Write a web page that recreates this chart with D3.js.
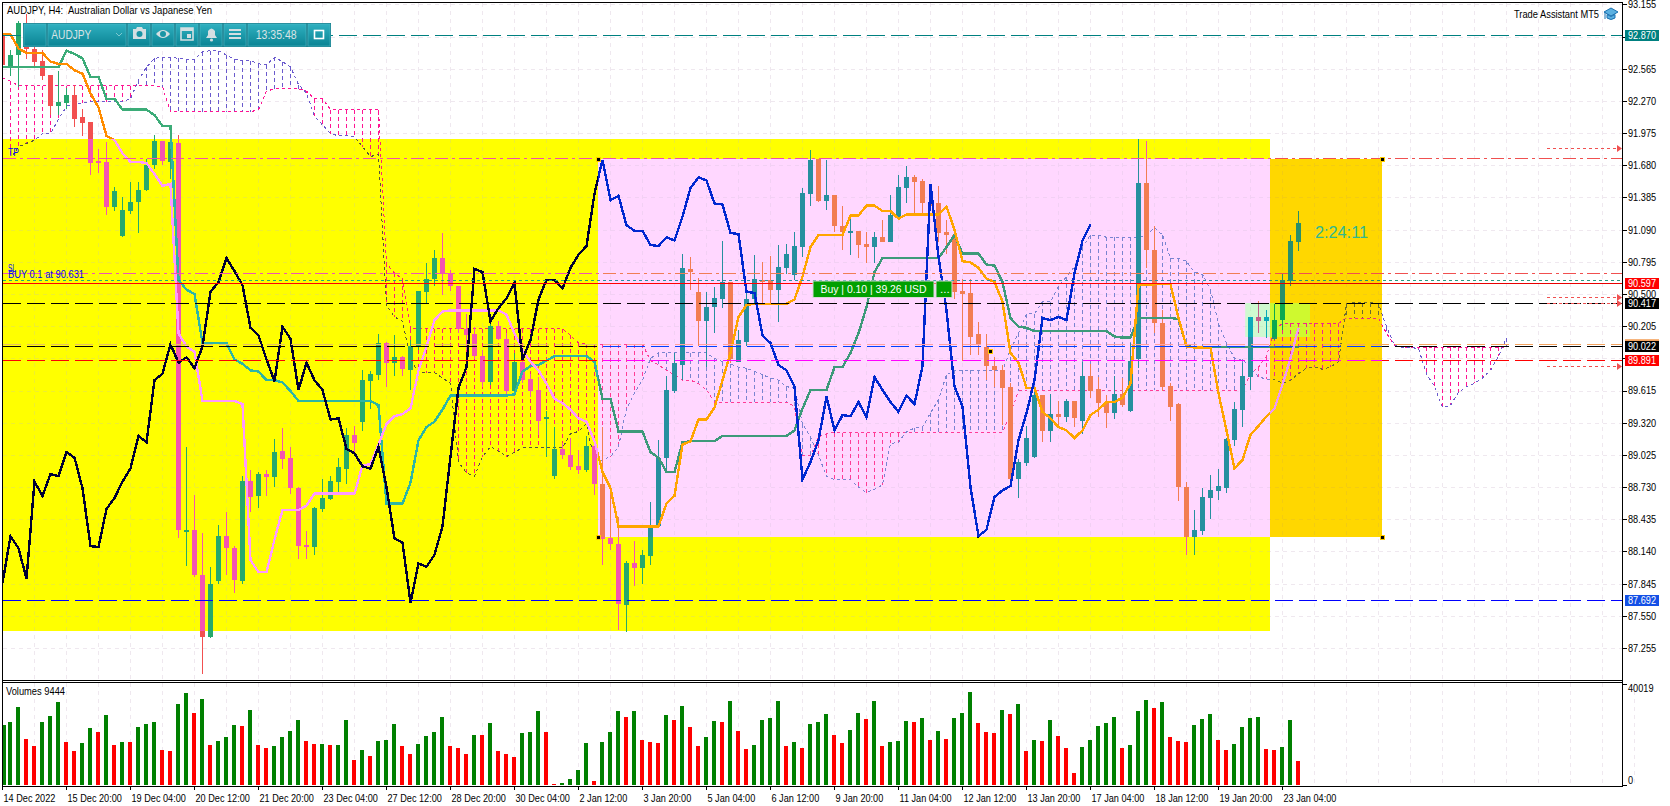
<!DOCTYPE html>
<html><head><meta charset="utf-8">
<script src="https://cdn.jsdelivr.net/npm/d3@7"></script>
<style>
html,body{margin:0;padding:0;background:#fff;overflow:hidden}
svg{display:block}
text{font-family:"Liberation Sans",Arial,sans-serif;font-size:10.5px;fill:#000}
.axis text{font-size:10.5px}
</style></head><body><svg id="c" width="1670" height="806"></svg>
<script>
const opens=[92.87,92.58,92.69,92.89,92.75,92.64,92.51,92.22,92.25,92.32,
92.12,92.08,91.72,91.71,91.30,91.03,91.26,91.34,91.45,91.68,
91.90,91.71,91.88,88.33,88.34,87.92,87.36,87.87,88.28,88.17,
87.87,88.79,88.65,88.85,88.82,89.06,89.00,88.72,88.20,88.18,
88.53,88.62,88.78,88.90,89.21,89.33,89.70,89.76,90.05,89.87,
89.92,89.80,90.02,90.52,90.64,90.83,90.69,90.57,90.18,90.13,
89.93,89.69,90.21,90.09,89.61,89.88,89.72,89.62,89.35,88.83,
89.08,89.02,88.92,88.89,89.11,88.76,88.26,88.21,87.65,88.03,
87.99,88.10,88.37,89.00,89.61,89.85,90.73,90.52,90.25,90.38,
90.45,90.61,89.88,90.06,90.45,90.63,90.63,90.54,90.74,90.67,
90.93,91.42,91.74,91.35,91.41,91.12,91.07,91.08,90.96,90.93,
91.02,90.98,91.20,91.47,91.57,91.54,91.33,91.33,91.07,91.04,
90.53,90.51,90.13,90.01,89.84,89.80,89.65,88.80,88.95,89.01,
89.57,89.24,89.40,89.37,89.52,89.34,89.75,89.63,89.51,89.41,
89.58,89.43,89.90,91.52,90.90,90.23,89.66,89.49,88.73,88.27,
88.33,88.63,88.69,88.72,89.16,89.44,89.74,90.29,90.25,90.09,
90.26,90.62,90.98];
const highs=[92.89,92.74,93.00,93.07,92.80,92.74,92.51,92.54,92.39,92.42,
92.20,92.08,91.83,91.89,91.48,91.39,91.53,91.53,91.74,91.96,
91.90,91.97,91.96,89.10,88.66,88.31,88.00,88.38,88.50,88.19,
88.83,88.89,88.87,88.89,89.17,89.27,89.10,88.73,88.33,88.55,
88.80,88.83,89.00,89.27,89.29,89.80,89.79,90.13,90.06,90.12,
89.93,90.08,90.53,90.78,90.90,91.06,90.72,90.57,90.32,90.20,
89.99,90.32,90.25,90.14,89.96,89.99,89.77,89.74,89.43,89.28,
89.13,89.18,89.07,89.20,89.12,89.28,88.73,88.46,88.05,88.24,
88.15,88.59,89.16,89.75,89.96,90.87,90.84,90.65,90.52,90.56,
90.99,90.61,90.17,90.55,90.86,90.79,90.85,90.95,90.96,91.07,
91.47,91.82,91.74,91.73,91.41,91.31,91.22,91.08,91.07,91.07,
91.18,91.41,91.59,91.67,91.59,91.55,91.47,91.49,91.18,91.04,
90.64,90.64,90.24,90.13,89.92,89.85,89.68,88.99,89.29,89.65,
89.57,89.58,89.52,89.54,89.52,89.88,89.86,89.74,89.57,89.75,
89.73,90.05,91.92,91.90,91.12,90.35,89.68,89.50,88.78,88.52,
88.72,88.84,88.90,89.18,89.51,89.87,90.29,90.44,90.35,90.41,
90.68,91.04,91.26];
const lows=[92.58,92.50,92.40,92.65,92.58,92.46,92.14,92.14,92.20,92.03,
91.95,91.59,91.61,91.22,91.26,91.02,91.23,91.06,91.44,91.65,
91.68,91.55,88.26,88.01,87.91,87.02,87.35,87.84,87.92,87.76,
87.84,88.50,88.54,88.65,88.73,88.90,88.67,88.07,88.07,88.11,
88.50,88.61,88.67,88.76,89.03,89.24,89.45,89.71,89.65,89.75,
89.75,89.62,89.99,90.41,90.57,90.49,90.53,90.14,89.99,89.90,
89.65,89.67,90.08,89.56,89.59,89.68,89.56,89.21,89.01,88.80,
88.99,88.89,88.85,88.87,88.66,88.02,88.15,87.42,87.40,87.82,
87.84,88.02,88.37,88.87,89.59,89.71,90.54,90.02,89.83,90.14,
90.37,89.87,89.88,90.02,90.41,90.40,90.41,90.24,90.68,90.63,
90.84,91.31,91.34,91.27,91.07,90.90,90.86,90.83,90.78,90.78,
90.98,90.98,91.19,91.33,91.22,91.22,91.31,90.98,90.87,90.45,
89.89,89.94,89.94,89.71,89.65,89.30,88.75,88.63,88.92,89.00,
89.14,89.14,89.28,89.33,89.28,89.22,89.55,89.37,89.27,89.35,
89.46,89.42,89.82,90.74,90.14,89.61,89.34,88.60,88.11,88.11,
88.29,88.44,88.61,88.68,89.11,89.28,89.62,90.14,90.10,90.08,
90.17,90.57,90.89];
const closes=[92.60,92.69,92.98,92.75,92.63,92.50,92.22,92.26,92.32,92.10,
92.07,91.70,91.70,91.30,91.44,91.27,91.34,91.45,91.68,91.90,
91.72,91.89,88.34,88.34,87.92,87.36,87.84,88.28,88.17,87.88,
88.79,88.64,88.85,88.82,89.05,88.99,88.72,88.19,88.18,88.54,
88.63,88.79,88.91,89.21,89.13,89.71,89.77,90.05,89.87,89.92,
89.81,90.02,90.53,90.64,90.83,90.69,90.57,90.18,90.12,89.93,
89.69,90.21,90.09,89.61,89.88,89.71,89.61,89.34,89.37,89.08,
89.02,88.91,88.89,89.11,88.76,88.25,88.21,87.66,88.03,87.99,
88.11,88.36,89.00,89.62,89.87,90.74,90.70,90.25,90.38,90.46,
90.61,89.90,90.08,90.45,90.64,90.61,90.54,90.75,90.87,90.94,
91.43,91.73,91.35,91.41,91.12,91.07,91.08,90.95,90.93,91.02,
90.98,91.22,91.48,91.57,91.53,91.33,91.31,91.06,91.04,90.52,
90.50,90.11,90.04,89.84,89.80,89.64,88.80,88.96,89.18,89.57,
89.24,89.40,89.37,89.52,89.36,89.75,89.61,89.50,89.41,89.58,
89.48,89.89,91.52,90.90,90.23,89.65,89.46,88.73,88.27,88.34,
88.64,88.70,88.74,89.17,89.45,89.75,90.29,90.25,90.29,90.26,
90.63,90.99,91.15];
const tenkan=[92.88,92.88,92.75,92.71,92.71,92.71,92.63,92.61,92.61,92.55,
92.52,92.34,92.21,91.95,91.91,91.79,91.71,91.71,91.70,91.60,
91.49,91.51,90.14,90.02,89.97,89.52,89.52,89.52,89.52,89.52,
89.49,88.06,87.95,87.95,88.25,88.52,88.52,88.52,88.56,88.67,
88.67,88.67,88.67,88.67,88.67,88.93,88.94,89.12,89.31,89.38,
89.40,89.45,89.80,90.02,90.26,90.34,90.35,90.35,90.35,90.35,
90.35,90.35,90.35,90.31,90.14,89.99,89.88,89.80,89.68,89.54,
89.50,89.44,89.36,89.33,89.15,88.87,88.72,88.37,88.37,88.37,
88.37,88.37,88.37,88.58,88.65,89.12,89.15,89.35,89.35,89.46,
89.71,89.96,90.29,90.40,90.41,90.41,90.41,90.41,90.41,90.45,
90.66,90.93,91.04,91.04,91.04,91.04,91.22,91.22,91.31,91.31,
91.26,91.26,91.19,91.23,91.23,91.23,91.23,91.23,91.30,91.09,
90.80,90.79,90.74,90.64,90.61,90.43,89.96,89.87,89.64,89.64,
89.42,89.36,89.28,89.25,89.18,89.25,89.39,89.44,89.51,89.51,
89.55,89.68,90.58,90.58,90.59,90.59,90.59,90.28,90.02,90.01,
90.01,90.01,89.59,89.25,88.90,88.98,89.21,89.29,89.38,89.45,
89.67,89.91,90.19];
const kijun=[92.58,92.58,92.58,92.58,92.58,92.58,92.58,92.58,92.73,92.70,
92.66,92.49,92.49,92.29,92.29,92.19,92.19,92.19,92.19,92.14,
92.04,92.04,90.63,90.54,90.50,90.05,90.05,90.05,90.05,89.90,
89.86,89.80,89.79,89.71,89.71,89.69,89.61,89.52,89.52,89.52,
89.52,89.52,89.52,89.52,89.52,89.52,89.52,89.48,88.58,88.58,
88.58,88.77,89.16,89.28,89.33,89.44,89.57,89.57,89.57,89.57,
89.57,89.57,89.57,89.57,89.58,89.79,89.84,89.85,89.89,89.93,
89.93,89.93,89.93,89.93,89.88,89.54,89.54,89.24,89.24,89.24,
89.24,89.05,89.00,88.87,88.87,89.14,89.15,89.15,89.15,89.15,
89.20,89.20,89.20,89.20,89.20,89.20,89.20,89.20,89.20,89.25,
89.45,89.62,89.62,89.62,89.83,89.83,89.96,90.14,90.38,90.70,
90.83,90.83,90.83,90.83,90.83,90.83,90.83,90.83,90.93,91.04,
90.87,90.87,90.87,90.77,90.76,90.61,90.28,90.20,90.19,90.16,
90.16,90.16,90.16,90.16,90.16,90.16,90.16,90.16,90.16,90.11,
90.10,90.10,90.28,90.28,90.28,90.28,90.28,90.27,90.02,90.015,
90.015,90.015,90.015,90.015,90.015,90.015,90.015,90.015,90.015,90.015,
90.015,90.015,90.015];
const chikou=[87.85,88.28,88.17,87.89,88.78,88.65,88.85,88.83,89.05,89.00,
88.72,88.19,88.18,88.53,88.63,88.78,88.90,89.20,89.14,89.71,
89.77,90.04,89.87,89.92,89.82,90.02,90.52,90.61,90.83,90.71,
90.58,90.19,90.12,89.90,89.70,90.20,90.09,89.62,89.87,89.71,
89.62,89.35,89.36,89.08,89.04,88.92,88.90,89.10,88.73,88.26,
88.22,87.67,88.03,88.00,88.11,88.37,89.01,89.64,89.83,90.73,
90.70,90.25,90.37,90.46,90.60,89.90,90.08,90.45,90.63,90.63,
90.55,90.74,90.86,90.94,91.42,91.73,91.36,91.40,91.13,91.08,
91.08,90.95,90.94,91.02,90.99,91.21,91.47,91.57,91.54,91.33,
91.32,91.06,91.05,90.52,90.51,90.12,90.05,89.85,89.80,89.65,
88.80,88.96,89.16,89.56,89.25,89.39,89.38,89.51,89.37,89.74,
89.62,89.51,89.42,89.57,89.49,89.84,91.51,90.84,90.35,89.65,
89.47,88.73,88.28,88.34,88.64,88.70,88.74,89.16,89.41,89.71,
90.28,90.26,90.29,90.26,90.69,90.99,91.14];
const senkouPink=[92.48,92.45,92.41,92.41,92.41,92.41,92.41,92.41,92.41,92.41,
92.41,92.41,92.41,92.41,92.41,92.41,92.41,92.41,92.41,92.41,
92.40,92.17,92.17,92.17,92.17,92.17,92.17,92.17,92.17,92.17,
92.17,92.17,92.19,92.36,92.38,92.38,92.38,92.38,92.36,92.29,
92.29,92.19,92.19,92.19,92.19,92.19,92.19,92.19,90.78,90.69,
90.64,90.18,90.18,90.18,90.18,90.18,90.18,90.18,90.18,90.18,
90.18,90.18,90.18,90.18,90.18,90.18,90.18,90.18,90.18,90.18,
90.18,90.12,90.05,90.04,90.04,90.04,90.04,90.04,90.04,90.04,
90.04,89.89,89.85,89.80,89.76,89.71,89.71,89.68,89.62,89.51,
89.51,89.51,89.51,89.51,89.51,89.51,89.51,89.51,89.51,89.47,
89.02,89.02,89.19,89.22,89.23,89.23,89.23,89.23,89.23,89.23,
89.23,89.23,89.23,89.23,89.23,89.23,89.23,89.23,89.23,89.23,
89.23,89.23,89.23,89.23,89.23,89.23,89.41,89.61,89.62,89.62,
89.62,89.62,89.62,89.62,89.62,89.62,89.62,89.62,89.62,89.62,
89.62,89.62,89.62,89.62,89.62,89.62,89.62,89.62,89.62,89.62,
89.62,89.62,89.62,89.62,89.62,89.62,89.77,89.83,89.93,90.17,
90.23,90.23,90.23,90.23,90.23,90.23,90.23,90.23,90.28,90.28,
90.28,90.28,90.28,90.14,90.03,90.01,90.01,90.01,90.01,90.01,
90.01,90.01,90.01,90.01,90.01,90.01,90.01,90.01,90.01];
const senkouPurple=[91.74,91.74,91.85,91.88,91.91,91.97,91.97,92.10,92.22,92.25,
92.25,92.26,92.26,92.26,92.26,92.26,92.29,92.46,92.58,92.66,
92.67,92.67,92.66,92.65,92.65,92.72,92.73,92.73,92.69,92.65,
92.64,92.64,92.61,92.60,92.67,92.63,92.58,92.42,92.34,92.13,
92.05,91.97,91.95,91.95,91.94,91.85,91.76,91.78,90.40,90.29,
90.25,89.90,89.78,89.78,89.78,89.73,89.68,88.96,88.86,88.83,
89.01,89.10,89.06,89.01,89.05,89.09,89.09,89.09,89.09,89.09,
89.09,89.22,89.24,89.31,88.96,88.98,89.01,89.10,89.45,89.59,
89.71,89.91,89.96,89.96,89.96,89.96,89.96,89.96,89.96,89.91,
89.88,89.86,89.83,89.82,89.79,89.76,89.73,89.71,89.65,89.64,
89.31,89.19,89.02,88.83,88.80,88.80,88.80,88.73,88.68,88.71,
88.75,89.13,89.14,89.24,89.27,89.28,89.41,89.53,89.76,89.80,
89.80,89.80,89.80,89.80,89.80,89.80,89.99,90.14,90.32,90.32,
90.43,90.43,90.57,90.66,90.75,90.93,91.04,91.04,91.02,91.02,
91.02,91.02,91.02,91.04,91.11,91.04,90.83,90.83,90.80,90.70,
90.68,90.54,90.23,90.05,89.91,89.90,89.82,89.74,89.72,89.72,
89.68,89.71,89.77,89.82,89.83,89.81,89.83,89.88,90.41,90.42,
90.42,90.42,90.41,90.20,90.03,90.01,90.01,90.00,89.77,89.65,
89.46,89.48,89.60,89.65,89.68,89.73,89.80,89.93,90.10];
const volumes=[23711,24890,30785,18209,15458,24890,27248,32750,17030,13493,
16637,22532,20960,27641,15851,17030,17030,22925,24104,24890,
13886,13493,31964,36287,28427,33929,15851,17423,18995,23711,
23318,29606,15851,14672,15458,18995,21353,25676,17423,16244,
16244,15851,15851,25676,9956,13886,11528,17423,17816,24104,
15458,12314,16244,19388,20960,26855,15458,14672,12314,19781,
19781,24497,13493,12314,11135,20567,20960,29213,20960,524,
917,2489,6026,16637,1703,17030,20960,29213,26855,29213,
17816,17030,16637,27641,25676,31178,22925,15458,18995,25283,
24890,33143,21353,14279,15851,25676,26462,33143,15458,17030,
14672,24104,24890,28034,19781,16637,21746,28427,26069,33143,
15458,17030,17423,25283,24890,26462,17816,21353,18209,26462,
28427,36680,24497,20960,20567,29606,28034,31964,13493,17816,
17423,25676,19388,14672,4847,15065,17816,23318,24497,26855,
14672,15851,29213,33536,30392,32750,18995,17423,17030,23711,
26069,28034,17816,13886,16244,22925,26462,26855,14279,13886,
15065,25676,9563];
const volumeDirections=("GGGRRGGGRRGGRGRGRGGGRRGGRGRGGGRGRRGGGGRRGRGGRGRGGGRRGGG"+
"GRRRGRGRRRGGGRRGGGGRGGGRGRRRGRGRRGGRGRRGGGGRGRGGGRRGGRG"+
"RGGGRGRGRGGGRRRGRGRGRGRRRGGGGGRGGGRGRRRGGGRRGGGGRRGGR").split("");
const timeLabels=["14 Dec 2022","15 Dec 20:00","19 Dec 04:00","20 Dec 12:00","21 Dec 20:00","23 Dec 04:00","27 Dec 12:00","28 Dec 20:00","30 Dec 04:00","2 Jan 12:00","3 Jan 20:00","5 Jan 04:00","6 Jan 12:00","9 Jan 20:00","11 Jan 04:00","12 Jan 12:00","13 Jan 20:00","17 Jan 04:00","18 Jan 12:00","19 Jan 20:00","23 Jan 04:00"];
const priceTicks=[93.155,92.86,92.565,92.27,91.975,91.68,91.385,91.09,90.795,90.5,90.205,89.91,89.615,89.32,89.025,88.73,88.435,88.14,87.845,87.55,87.255];
const hiddenTicks=[92.86,89.91];
const levelPrices=[92.87,91.745,90.69,90.631,90.597,90.417,90.04,90.022,89.891,87.692];
const levelDash=["18,6","13,4,3,4","13,4,3,4","3,3",null,"18,6","18,6","18,6","18,6","18,6"];
const labelPrices=[92.87,90.597,90.417,90.022,89.891,87.692];
const labelColors=["#008080","#ff0000","#000000","#000000","#ff0000","#1450e6"];
const alertPrices=[91.836,90.47,90.417,89.843];

const W=1670,H=806,PL=2.5,PR=1622.5,PT=2.5,PB=680,VT=682.5,VB=785.5;
const x=d3.scaleLinear().domain([0,162]).range([2,1298]);
const y=d3.scaleLinear().domain([93.172,86.962]).range([PT,PB]);
const yv=d3.scaleLinear().domain([0,40019]).range([785.3,683.5]);

const zones=[
 {id:"white",b0:-2,b1:240,top:93.2,bot:86.9,fill:"#ffffff",grid:"#efe8ef",bull:"#26a96c",bear:"#f25050",kijun:"#3cac78",tenkan:"#ff8c00",chikou:"#0000ff",s1:"#ff1493",s2:"#6a5acd",
  levels:["#008080","#f05050","#f05050","#2a9a80","#e80000","#000","#f4a460","#000","#ff0000","#0000ff"]},
 {id:"yellow",b0:-2,b1:158.5,top:91.92,bot:87.41,fill:"#ffff00",grid:"#eeee30",bull:"#26a96c",bear:"#f455b0",kijun:"#2eb5a5",tenkan:"#ff99ff",chikou:"#000033",s1:"#ff1e78",s2:"#55553c",
  levels:["#008080","#f050a8","#f055b0","#26a96c","#ff0000","#000","#e8c060","#000","#ff0000","#0000ff"]},
 {id:"pink",b0:74.5,b1:158.5,top:91.74,bot:88.27,fill:"#ffd7ff",grid:"#f2d0f4",bull:"#25909f",bear:"#f27d52",kijun:"#3d9a7a",tenkan:"#ffa500",chikou:"#0028d0",s1:"#ff3c96",s2:"#7a84d0",
  levels:["#008080","#f060b0","#f07d55","#2a90a0","#ff0000","#000","#ffa0a0","#0040ff","#ff00ff","#0000ff"]},
 {id:"gold",b0:158.5,b1:172.5,top:91.74,bot:88.27,fill:"#ffd700",grid:"#f4cc10",bull:"#298f6b",bear:"#f05050",kijun:"#3d8a6a",tenkan:"#ee99ee",chikou:"#0028d0",s1:"#f0288c",s2:"#6b6b33",
  levels:["#008080","#f05050","#f05050","#2a8f6b","#e00000","#000","#f4a460","#0040ff","#ff00ff","#0000ff"]},
 {id:"lgp",b0:155.4,b1:158.5,top:90.417,bot:90.105,fill:"#cff9d0",grid:"#c8f0c8",bull:"#0baab9",bear:"#c25c8b",kijun:"#3d9a7a",tenkan:"#ffa500",chikou:"#0028d0",s1:"#ff3c96",s2:"#7a84d0",
  levels:["#008080","#f060b0","#f07d55","#2a90a0","#ff0000","#000","#ffa0a0","#0040ff","#ff00ff","#0000ff"]},
 {id:"lgg",b0:158.5,b1:163.5,top:90.417,bot:90.105,fill:"#cff92f",grid:"#c8f030",bull:"#0ba850",bear:"#c25c8b",kijun:"#3d8a6a",tenkan:"#ee99ee",chikou:"#0028d0",s1:"#f0288c",s2:"#6b6b33",
  levels:["#008080","#f05050","#f05050","#2a8f6b","#e00000","#000","#f4a460","#0040ff","#ff00ff","#0000ff"]}
];
const svg=d3.select("#c");
const defs=svg.append("defs");
const bars=d3.range(opens.length), cloudBars=d3.range(senkouPink.length);
const gridX=d3.range(0,52).map(k=>k*4);
const plotRect={x:3,y:3};

function clipRect(z){
 const x0=Math.max(plotRect.x,x(z.b0)),x1=Math.min(PR,x(z.b1));
 const y0=Math.max(plotRect.y,Math.round(y(z.top))),y1=Math.min(PB,Math.round(y(z.bot)));
 return {x:x0,y:y0,width:x1-x0,height:y1-y0};
}
function lineGen(arr){return d3.line().x((d,i)=>x(i)+.5).y(d=>y(d))(arr);}
// squeeze a text to a target width, the reference font being narrower than what is installed
function fit(sel,width){sel.attr("textLength",width).attr("lengthAdjust","spacingAndGlyphs");return sel;}
function scaleText(sel,f){sel.each(function(){const t=d3.select(this);if(this.textContent)fit(t,this.getComputedTextLength()*f);});}

zones.forEach(z=>{
 const r=clipRect(z);
 defs.append("clipPath").attr("id","clip-"+z.id).append("rect").attr("x",r.x).attr("y",r.y).attr("width",r.width).attr("height",r.height);
 const g=svg.append("g").attr("clip-path",`url(#clip-${z.id})`).attr("shape-rendering","crispEdges");
 g.append("rect").attr("x",r.x).attr("y",r.y).attr("width",r.width).attr("height",r.height).attr("fill",z.fill);
 g.selectAll("line.gx").data(gridX).join("line").attr("class","gx").attr("x1",d=>x(d)).attr("x2",d=>x(d)).attr("y1",PT).attr("y2",PB).attr("stroke",z.grid).attr("stroke-dasharray","4,4");
 g.selectAll("line.gy").data(priceTicks).join("line").attr("class","gy").attr("x1",PL).attr("x2",PR).attr("y1",d=>Math.round(y(d))+.5).attr("y2",d=>Math.round(y(d))+.5).attr("stroke",z.grid).attr("stroke-dasharray","4,4");
 g.selectAll("line.h").data(cloudBars).join("line").attr("class","h")
  .attr("x1",i=>x(i)+.5).attr("x2",i=>x(i)+.5)
  .attr("y1",i=>y(Math.max(senkouPink[i],senkouPurple[i]))).attr("y2",i=>y(Math.min(senkouPink[i],senkouPurple[i])))
  .attr("stroke",i=>senkouPink[i]>=senkouPurple[i]?z.s1:z.s2).attr("stroke-dasharray","4,3");
 g.append("path").attr("d",lineGen(senkouPink)).attr("fill","none").attr("stroke",z.s1).attr("stroke-dasharray","3,3");
 g.append("path").attr("d",lineGen(senkouPurple)).attr("fill","none").attr("stroke",z.s2).attr("stroke-dasharray","3,3");
 g.selectAll("rect.w").data(bars).join("rect").attr("class","w")
  .attr("x",i=>x(i)).attr("width",1)
  .attr("y",i=>y(highs[i])).attr("height",i=>y(lows[i])-y(highs[i]))
  .attr("fill",i=>closes[i]>=opens[i]?z.bull:z.bear);
 g.selectAll("rect.b").data(bars).join("rect").attr("class","b")
  .attr("x",i=>x(i)-2).attr("width",5)
  .attr("y",i=>y(Math.max(opens[i],closes[i])))
  .attr("height",i=>Math.max(2,y(Math.min(opens[i],closes[i]))-y(Math.max(opens[i],closes[i]))))
  .attr("fill",i=>closes[i]>=opens[i]?z.bull:z.bear);
 g.append("path").attr("d",lineGen(kijun)).attr("fill","none").attr("stroke",z.kijun).attr("stroke-width",2.4);
 g.append("path").attr("d",lineGen(tenkan)).attr("fill","none").attr("stroke",z.tenkan).attr("stroke-width",2.4);
 g.append("path").attr("d",lineGen(chikou)).attr("fill","none").attr("stroke",z.chikou).attr("stroke-width",2.4);
 g.selectAll("line.l").data(levelPrices).join("line").attr("class","l")
  .attr("x1",PL).attr("x2",PR).attr("y1",d=>Math.round(y(d))+.5).attr("y2",d=>Math.round(y(d))+.5)
  .attr("stroke",(d,i)=>z.levels[i]).attr("stroke-dasharray",(d,i)=>levelDash[i]);
});

const ag=svg.append("g");
ag.selectAll("line").data(alertPrices).join("line").attr("x1",1547).attr("x2",1618).attr("y1",d=>Math.round(y(d))+.5).attr("y2",d=>Math.round(y(d))+.5).attr("stroke","#f05050").attr("stroke-dasharray","3,3").attr("shape-rendering","crispEdges");
ag.selectAll("path").data(alertPrices).join("path").attr("d",d=>{const v=Math.round(y(d))+.5;return `M1617,${v-3.5}L1622,${v}L1617,${v+3.5}Z`;}).attr("fill","#f05050");

const anchorBars=[74.5,74.5,123.5,172.5,172.5], anchorPrices=[91.73,88.265,89.975,91.73,88.265];
svg.append("g").selectAll("rect").data(anchorBars).join("rect").attr("x",d=>x(d)-2).attr("y",(d,i)=>y(anchorPrices[i])-2).attr("width",4).attr("height",4).attr("fill","#000").attr("stroke","#ffcc00").attr("stroke-width",1).attr("shape-rendering","crispEdges");

const T=(s,tx,ty,o={})=>{const t=svg.append("text").text(s).attr("x",tx).attr("y",ty).style("fill",o.fill||"#000").style("font-size",(o.size||10.5)+"px").attr("text-anchor",o.anchor||"start").style("white-space","pre");if(o.w)fit(t,o.w);return t;};
T("TP",8,156,{fill:"#0000ff",w:11});
T("SL",8,272,{fill:"#0000ff",w:8});
T("BUY 0.1 at 90.631",8,277.5,{fill:"#0000ff",w:76});
T("AUDJPY, H4:  Australian Dollar vs Japanese Yen",7,13.5,{size:11.2,w:205});
T("Trade Assistant MT5",1514,17.5,{size:10.8,w:85});
T("2:24:11",1315,237.7,{fill:"#30b890",size:17,w:53});

const cap=svg.append("g").attr("transform","translate(1604,7)");
cap.append("path").attr("d","M0,5L7,1L14,5L7,9Z").attr("fill","#5bb0e0").attr("stroke","#1a70b0");
cap.append("path").attr("d","M3,7.5V11Q7,14 11,11V7.5L7,9.5Z").attr("fill","#5bb0e0").attr("stroke","#1a70b0");
cap.append("path").attr("d","M1,5V12").attr("stroke","#1a70b0");

const tb=svg.append("g");
tb.append("rect").attr("x",813).attr("y",281).attr("width",121).attr("height",16.5).attr("fill","#00a000").attr("stroke","#d8d8d8");
tb.append("rect").attr("x",936).attr("y",281).attr("width",16).attr("height",16.5).attr("fill","#00a000").attr("stroke","#d8d8d8");
T("Buy | 0.10 | 39.26 USD",820.5,293,{fill:"#fff",size:11.6,w:106});
T("...",940,293,{fill:"#fff",size:11.6});

const grad=defs.append("linearGradient").attr("id","tbg").attr("x1",0).attr("x2",0).attr("y1",0).attr("y2",1);
grad.append("stop").attr("offset",0).attr("stop-color","#2fb0c0");
grad.append("stop").attr("offset",1).attr("stop-color","#0b8494");
const tbX=[24,48,128,152,176,200,224,248,308],tbW=[22,78,22,22,22,22,22,58,22];
const tg=svg.append("g");
tg.append("rect").attr("x",23).attr("y",23).attr("width",308).attr("height",24).attr("fill","#1a7f8e");
tg.selectAll("rect.s").data(tbX).join("rect").attr("class","s").attr("x",d=>d).attr("y",24).attr("width",(d,i)=>tbW[i]).attr("height",22).attr("fill","url(#tbg)").attr("stroke","#4db8c6").attr("stroke-width",.6);
T("AUDJPY",51.3,38.5,{fill:"#d8e4e6",size:12,w:40});
tg.append("path").attr("d","M116,33l3,3l3,-3").attr("fill","none").attr("stroke","#7ec8d0");
const ic="#d4dfe2";
tg.append("path").attr("d","M133,29h3l1,-2h5l1,2h3v10h-13Z").attr("fill",ic);
tg.append("circle").attr("cx",139.5).attr("cy",34).attr("r",3).attr("fill","#1a95a5");
tg.append("path").attr("d","M156,34Q163,26 170,34Q163,42 156,34Z").attr("fill",ic);
tg.append("circle").attr("cx",163).attr("cy",34).attr("r",3).attr("fill","#1a95a5");
tg.append("path").attr("d","M181,28h12v12h-12Z").attr("fill","none").attr("stroke",ic).attr("stroke-width",1.6);
tg.append("rect").attr("x",181).attr("y",28).attr("width",12).attr("height",3).attr("fill",ic);
tg.append("rect").attr("x",187).attr("y",34).attr("width",4).attr("height",4).attr("fill",ic);
tg.append("path").attr("d","M206,38h11l-2,-3v-4q-3.5,-5 -7,0v4Z").attr("fill",ic);
tg.append("circle").attr("cx",211.5).attr("cy",40).attr("r",1.6).attr("fill",ic);
tg.append("path").attr("d","M229,30h12M229,34h12M229,38h12").attr("stroke",ic).attr("stroke-width",2);
T("13:35:48",255.7,38.5,{fill:"#d8e4e6",size:12,w:41});
tg.append("rect").attr("x",314.5).attr("y",30.5).attr("width",9).attr("height",8).attr("fill","none").attr("stroke","#fff").attr("stroke-width",1.6);

const vg=svg.append("g").attr("shape-rendering","crispEdges");
vg.append("rect").attr("x",3).attr("y",VT).attr("width",PR-3).attr("height",VB-VT).attr("fill","#fff");
vg.selectAll("line.gx").data(gridX).join("line").attr("class","gx").attr("x1",d=>x(d)).attr("x2",d=>x(d)).attr("y1",VT).attr("y2",VB).attr("stroke","#efe8ef").attr("stroke-dasharray","4,4");
vg.selectAll("rect.v").data(bars).join("rect").attr("class","v")
 .attr("x",i=>Math.max(3,x(i)-2)).attr("width",i=>i===0?3:4)
 .attr("y",i=>yv(volumes[i])).attr("height",i=>yv(0)-yv(volumes[i]))
 .attr("fill",i=>volumeDirections[i]==="G"?"#008000":"#ff0000");
T("Volumes 9444",6,695,{size:10.8,w:59});

const fr=svg.append("g").attr("shape-rendering","crispEdges").attr("stroke","#000").attr("fill","none");
fr.append("path").attr("d",`M${PL},${VB}V${PT}H${PR}`);
fr.append("path").attr("d",`M${PL},680.5H${PR}M${PL},682.5H${PR}`);

const ax=svg.append("g").attr("class","axis").attr("transform",`translate(${PR},0)`).attr("shape-rendering","crispEdges")
 .call(d3.axisRight(y).tickValues(priceTicks).tickSize(4).tickSizeOuter(0).tickFormat(d=>hiddenTicks.includes(d)?"":d3.format(".3f")(d)));
ax.selectAll("text").style("font-size","10.5px").attr("x",5.5);
scaleText(ax.selectAll("text"),.875);
ax.select(".domain").attr("d",`M0,${PT}V${VB}`).attr("stroke","#000");
const axv=svg.append("g").attr("class","axis").attr("transform",`translate(${PR},0)`).attr("shape-rendering","crispEdges")
 .call(d3.axisRight(yv).tickValues([0,40019]).tickSize(4).tickSizeOuter(0).tickFormat(d3.format("d")));
axv.select(".domain").remove();
axv.selectAll("text").style("font-size","10.5px").attr("x",5.5).attr("dy",d=>d===0?"-2px":"7.5px");
scaleText(axv.selectAll("text"),.875);
const axb=svg.append("g").attr("class","axis").attr("transform",`translate(0,${VB})`).attr("shape-rendering","crispEdges")
 .call(d3.axisBottom(x).tickValues(timeLabels.map((d,i)=>i*8)).tickSize(4).tickSizeOuter(0).tickFormat((d,i)=>timeLabels[i]));
axb.select(".domain").attr("d",`M${PL},.5H${PR}`);
axb.selectAll("text").style("font-size","10.5px").attr("text-anchor","start").attr("x",1).attr("y",9);
scaleText(axb.selectAll("text"),.87);

const lab=svg.append("g");
lab.append("rect").attr("x",1625).attr("y",y(90.04)-5).attr("width",34).attr("height",3).attr("fill","#f4a460");
labelPrices.forEach((p,i)=>{
 const v=y(p);
 lab.append("rect").attr("x",1625).attr("y",Math.round(v)-5).attr("width",34).attr("height",11).attr("fill",labelColors[i]).attr("shape-rendering","crispEdges");
 fit(lab.append("text").text(d3.format(".3f")(p)).attr("x",1628).attr("y",Math.round(v)+4).style("fill","#fff").style("font-size","10.5px"),28);
});
</script></body></html>
